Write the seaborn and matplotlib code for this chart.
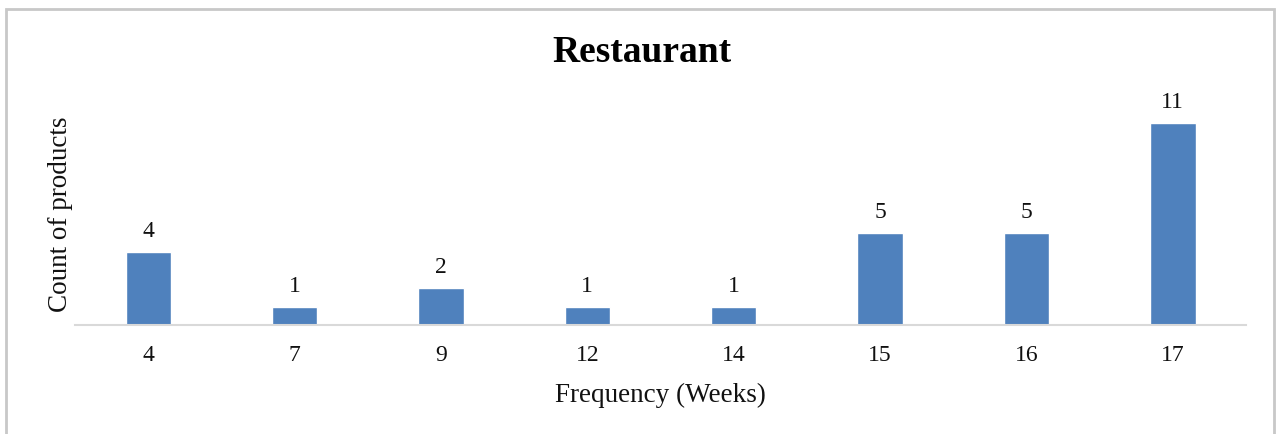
import matplotlib
matplotlib.use("Agg")
import matplotlib.pyplot as plt
import seaborn as sns
import pandas as pd
from matplotlib.patches import Rectangle

weeks = ["4", "7", "9", "12", "14", "15", "16", "17"]
counts = [4, 1, 2, 1, 1, 5, 5, 11]

df = pd.DataFrame({"week": weeks, "count": counts})

sns.set_theme(style="white")
plt.rcParams["font.family"] = ["Liberation Serif", "DejaVu Serif"]

fig = plt.figure(figsize=(12.76, 4.35), dpi=100)
ax = fig.add_axes([0.0588, 0.2506, 0.9177, 0.5057])

sns.barplot(data=df, x="week", y="count", order=weeks, color="#4F81BD",
            saturation=1, width=0.31, ax=ax)

for i, v in enumerate(counts):
    ax.annotate(str(v), (i, v), xytext=(0, 8), textcoords="offset points",
                ha="center", va="bottom", fontsize=17, color="#111111")

ax.set_ylim(0, 12)
ax.set_xlim(-0.5, len(weeks) - 0.5)
ax.set_yticks([])
for s in ["top", "right", "left"]:
    ax.spines[s].set_visible(False)
ax.spines["bottom"].set_color("#d9d9d9")
ax.spines["bottom"].set_linewidth(1.5)
ax.tick_params(axis="x", length=0, labelsize=17, labelcolor="#111111", pad=14)

ax.set_xlabel("Frequency (Weeks)", fontsize=19.5, color="#111111", labelpad=12)
ax.set_ylabel("Count of products", fontsize=19.5, color="#111111")
ax.yaxis.set_label_coords(-0.0015, 0.51)

fig.text(0.503, 0.88, "Restaurant", ha="center", va="center",
         fontsize=27, fontweight="bold", color="black")

# outer chart frame
fig.patches.append(Rectangle((6 / 1276, -0.05), 1268 / 1276, 1 - 9.5 / 435 + 0.05,
                             transform=fig.transFigure, fill=False,
                             edgecolor="#c8c8c8", linewidth=2))

fig.savefig("out.png", dpi=100, facecolor="white")
